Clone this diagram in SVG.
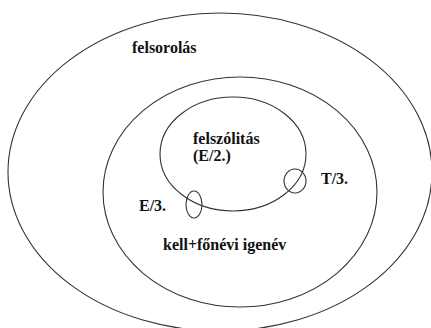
<svg xmlns="http://www.w3.org/2000/svg" width="431" height="328" viewBox="0 0 431 328">
<style>
.e{fill:none;stroke:#333;stroke-width:1.1}
.t{font-family:'Liberation Serif','Times New Roman',serif;font-weight:bold;font-size:16px;fill:#111}
</style>
<rect width="431" height="328" fill="#fff"/>
<g id="felsorolas">
<ellipse class="e" cx="220" cy="172" rx="212" ry="159"/>
<text class="t" x="132" y="53">felsorolás</text>
</g>
<g id="kell">
<ellipse class="e" cx="240" cy="192" rx="137" ry="115"/>
<text class="t" x="163" y="250">kell+főnévi igenév</text>
</g>
<g id="felszolitas">
<ellipse class="e" cx="233" cy="154" rx="73" ry="57"/>
<text class="t" x="193" y="144">felszólitás</text>
<text class="t" x="193" y="161">(E/2.)</text>
</g>
<g id="T3">
<ellipse class="e" cx="295" cy="181" rx="11" ry="12"/>
<text class="t" x="321" y="184">T/3.</text>
</g>
<g id="E3">
<ellipse class="e" cx="194" cy="204.5" rx="8" ry="13.5"/>
<text class="t" x="139" y="211">E/3.</text>
</g>
<g id="connectors"/>
</svg>
